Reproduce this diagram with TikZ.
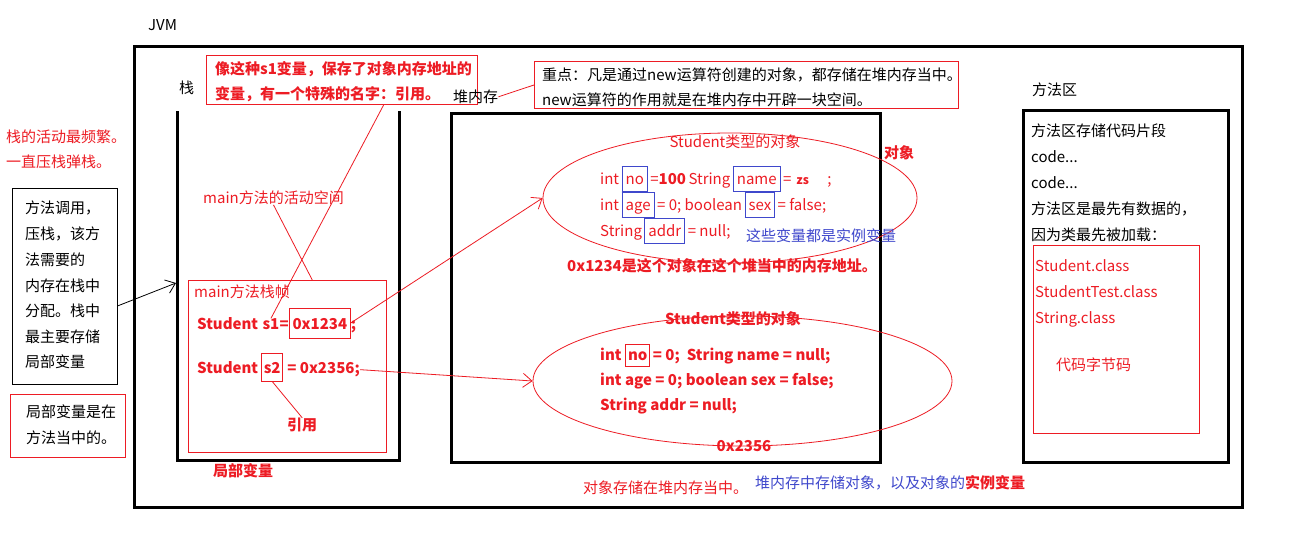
\documentclass[tikz,border=0pt]{standalone}
\usepackage{fontspec}
\setmainfont{Noto Sans CJK SC}
\usetikzlibrary{shapes.geometric,arrows.meta}
\definecolor{pred}{HTML}{ED1C24}
\definecolor{pblue}{HTML}{3F48CC}
\newcommand\bluebx[1]{{\fboxsep=3pt\fboxrule=1pt\color{pblue}\fbox{\color{pred}\rule[-3.5pt]{0pt}{18pt}#1}}}
\newcommand\redbx[1]{{\fboxsep=2pt\fboxrule=1pt\color{pred}\fbox{\rule[-3.5pt]{0pt}{17pt}#1}}}
\begin{document}
\begin{tikzpicture}[x=1pt,y=-1pt,
  txt/.style={font=\fontsize{15}{18}\selectfont, inner sep=0pt, anchor=base west, text=black},
  rtxt/.style={txt, text=pred},
  btxt/.style={txt, text=pred, font=\fontsize{15}{18}\selectfont\bfseries},
  wall/.style={draw=black, line width=3pt},
  thinbox/.style={draw=black, line width=1pt, anchor=north west, inner sep=0pt},
  redbox/.style={draw=pred, line width=1pt, anchor=north west, inner sep=0pt},
  rl/.style={draw=pred, line width=0.8pt},
  arr/.style={-{Straight Barb[length=9pt,width=14pt]}},
  oval/.style={ellipse, draw=pred, line width=0.8pt, inner sep=0pt}]
\useasboundingbox (0,0) rectangle (1291,549);
\fill[white] (0,0) rectangle (1291,549);

% JVM outer box
\node[txt] (jvm) at (148,30.5) {JVM};
\draw[wall] (134,46) rectangle (1242,507);

% ---- Stack ----
\node[txt] (zhan) at (179,93.5) {栈};
\draw[wall] (177,111) -- (177,460) -- (399,460) -- (399,111);

\node[redbox, minimum width=271, minimum height=49] (note1) at (206,55) {};
\node[btxt] (n1a) at (215,74.5) {像这种s1变量，保存了对象内存地址的};
\node[btxt] (n1b) at (215,99.5) {变量，有一个特殊的名字：引用。};

\node[rtxt] (freq1) at (6,142.5) {栈的活动最频繁。};
\node[rtxt] (freq2) at (6,167.5) {一直压栈弹栈。};

\node[thinbox, minimum width=105, minimum height=196] (lbox) at (12,188) {};
\node[txt] (l1) at (25,213.5) {方法调用，};
\node[txt] (l2) at (25,239.5) {压栈，该方};
\node[txt] (l3) at (25,265.5) {法需要的};
\node[txt] (l4) at (25,291.5) {内存在栈中};
\node[txt] (l5) at (25,316.5) {分配。栈中};
\node[txt] (l6) at (25,342.5) {最主要存储};
\node[txt] (l7) at (25,367.5) {局部变量};

\node[redbox, minimum width=115, minimum height=63] (rbox) at (10,394) {};
\node[txt] (r1) at (26,417.5) {局部变量是在};
\node[txt] (r2) at (26,443.5) {方法当中的。};

\coordinate (stackL) at (176,283);
\draw[line width=0.8pt, arr] (lbox.-20) -- (stackL);

\node[rtxt] (act) at (203,203.5) {main方法的活动空间};
\node[redbox, minimum width=198, minimum height=172] (frame) at (188,280) {};
\node[rtxt] (ftitle) at (194,297.5) {main方法栈帧};

\node[btxt] (s1w) at (197,329.5) {Student\kern4pt};
\node[btxt] (s1n) at (s1w.base east) {s1};
\node[btxt] (s1eq) at (s1n.base east) {=};
\node[btxt, draw=pred, line width=1pt, inner xsep=3pt, inner ysep=4pt, text height=17.5pt, text depth=4.5pt] (s1v) at (s1eq.base east) {0x1234};
\node[btxt] (s1sc) at (s1v.base east) {;};

\node[btxt] (s2w) at (197,373.5) {Student\kern3pt};
\node[btxt, draw=pred, line width=1pt, inner xsep=2pt, inner ysep=3pt, text height=17.5pt, text depth=4.5pt] (s2b) at (s2w.base east) {s2};
\node[btxt] (s2r) at (s2b.base east) {\kern4pt= 0x2356;};

\node[btxt] (yin) at (287,430.5) {引用};
\node[btxt] (jubu) at (213,476.5) {局部变量};

\draw[rl] (act.south) -- (frame.74);
\draw[rl] (note1.-31) -- (s1n.north);
\draw[rl] (s2b.south) -- (yin.north);

% ---- Heap ----
\node[txt] (heapl) at (453,102.5) {堆内存};
\node[redbox, minimum width=424, minimum height=47] (hnote) at (534,61) {};
\node[txt] (h1) at (542,80.5) {重点：凡是通过new运算符创建的对象，都存储在堆内存当中。};
\node[txt] (h2) at (542,105.5) {new运算符的作用就是在堆内存中开辟一块空间。};
\draw[rl] (heapl.east) -- (hnote.west);

\draw[wall] (451,113) rectangle (880,462);

\node[oval, minimum width=374, minimum height=130] (e1) at (730,198) {};
\node[rtxt, anchor=base] (e1t) at (735,147.5) {Student类型的对象};
\node[btxt] (dx) at (884,158.5) {对象};
\node[rtxt] (e1a) at (600,184.5) {int\,\bluebx{no}\,=\textbf{100}\,String\,\bluebx{name}\,=\,\,{\bfseries\fontsize{12}{14}\selectfont zs}\quad\ ;};
\node[rtxt] (e1b) at (600,210.5) {int\,\bluebx{age}\,= 0; boolean\,\bluebx{sex}\,= false;};
\node[rtxt] (e1c) at (600,236.5) {String\,\bluebx{addr}\,= null;};
\node[txt, text=pblue] (inst) at (746,241.5) {这些变量都是实例变量};
\node[btxt] (addr1) at (567,271.5) {0x1234是这个对象在这个堆当中的内存地址。};

\node[oval, minimum width=419, minimum height=130] (e2) at (742.5,381) {};
\node[btxt, anchor=base] (e2t) at (733,324.5) {Student类型的对象};
\node[btxt] (e2a) at (600,360.5) {int \redbx{no}\,= 0;\ \ String name = null;};
\node[btxt] (e2b) at (600,385.5) {int age = 0; boolean sex = false;};
\node[btxt] (e2c) at (600,410.5) {String addr = null;};
\node[btxt, anchor=base] (addr2) at (744,451.5) {0x2356};

\draw[rl, arr] (s1v.east) -- (e1.west);
\draw[rl, arr] (s2r.east) -- (e2.west);

\node[rtxt] (b1) at (583,493.5) {对象存储在堆内存当中。};
\node[txt, text=pblue] (b2) at (755,488.5) {堆内存中存储对象，以及对象的{\bfseries\color{pred}实例变量}};

% ---- Method area ----
\node[txt] (mal) at (1032,95.5) {方法区};
\draw[wall] (1023,110) rectangle (1228,462);
\node[txt] (m1) at (1031,136.5) {方法区存储代码片段};
\node[txt] (m2) at (1031,162.5) {code...};
\node[txt] (m3) at (1031,188.5) {code...};
\node[txt] (m4) at (1031,214.5) {方法区是最先有数据的，};
\node[txt] (m5) at (1031,240.5) {因为类最先被加载：};
\node[redbox, minimum width=166, minimum height=188] (cbox) at (1033,245) {};
\node[rtxt] (c1) at (1035,271.5) {Student.class};
\node[rtxt] (c2) at (1035,297.5) {StudentTest.class};
\node[rtxt] (c3) at (1035,323.5) {String.class};
\node[rtxt] (c4) at (1056,370.5) {代码字节码};
\end{tikzpicture}
\end{document}
